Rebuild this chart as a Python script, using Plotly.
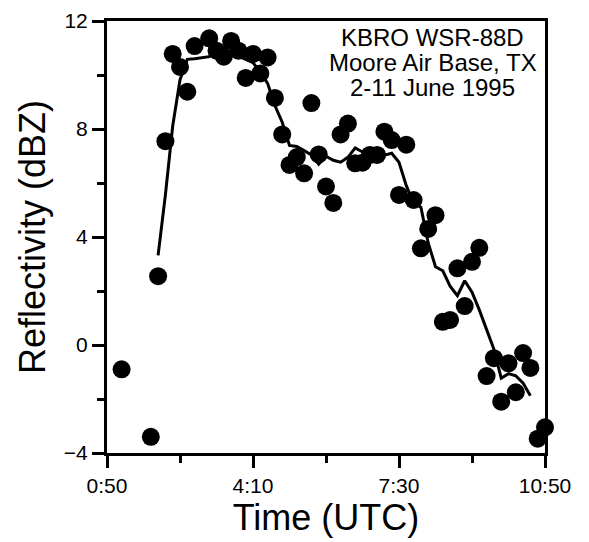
import plotly.graph_objects as go

# time in minutes after 00:00 UTC
minutes = [70, 110, 120, 130, 140, 150, 160, 170, 190, 200,
           210, 220, 230, 240, 250, 260, 270, 280, 290, 300,
           310, 320, 330, 340, 350, 360, 370, 380, 390, 400,
           410, 420, 430, 440, 450, 460, 470, 480, 490, 500,
           510, 520, 530, 540, 550, 560, 570, 580, 590, 600,
           610, 620, 630, 640, 650]
dbz = [-0.9, -3.4, 2.55, 7.55, 10.78, 10.3, 9.38, 11.07, 11.36, 10.9,
       10.68, 11.26, 10.9, 9.89, 10.78, 10.06, 10.65, 9.15, 7.8, 6.67,
       6.96, 6.36, 8.96, 7.06, 5.87, 5.26, 7.8, 8.2, 6.73, 6.75,
       7.04, 7.04, 7.9, 7.59, 5.56, 7.42, 5.37, 3.58, 4.3, 4.81,
       0.86, 0.93, 2.84, 1.44, 3.08, 3.6, -1.15, -0.49, -2.1, -0.68,
       -1.75, -0.3, -0.85, -3.47, -3.05]

# smoothed curve as drawn
smooth_minutes = minutes[2:-2]
smooth_dbz = [3.32, 5.56, 8.11, 9.82, 10.58, 10.60, 10.68, 11.05, 11.02, 10.73,
              10.70, 10.58, 10.46, 10.11, 9.69, 8.87, 8.25, 7.39, 7.35, 7.20,
              7.04, 6.70, 6.99, 6.84, 6.77, 6.95, 7.30, 7.15, 7.09, 7.26,
              7.03, 7.10, 6.77, 5.90, 5.25, 5.10, 3.78, 2.90, 2.75, 2.18,
              1.83, 2.38, 1.96, 1.30, 0.59, -0.16, -1.23, -1.06, -1.14, -1.41,
              -1.88]

x_ticks = [50, 250, 450, 650]
x_labels = ["0:50", "4:10", "7:30", "10:50"]
y_ticks = [-4, 0, 4, 8, 12]
note_lines = ["KBRO WSR-88D", "Moore Air Base, TX", "2-11 June 1995"]

FONT = "Liberation Sans, Arial, sans-serif"

fig = go.Figure()
fig.add_trace(go.Scatter(x=smooth_minutes, y=smooth_dbz, mode="lines",
                         line=dict(color="black", width=3), showlegend=False))
fig.add_trace(go.Scatter(x=minutes, y=dbz, mode="markers",
                         marker=dict(color="black", size=18), showlegend=False,
                         cliponaxis=False))

for i, txt in enumerate(note_lines):
    fig.add_annotation(x=0.744, y=[0.961, 0.903, 0.847][i], xref="paper", yref="paper",
                       text=txt, showarrow=False, xanchor="center", yanchor="middle",
                       font=dict(size=24, color="black", family=FONT))

axis_common = dict(showline=True, linecolor="black", linewidth=3, mirror=True,
                   showgrid=False, zeroline=False, ticks="outside", ticklen=12,
                   tickwidth=3, tickcolor="black",
                   tickfont=dict(size=21, color="black", family=FONT))

fig.update_xaxes(range=[50, 650], tickvals=x_ticks, ticktext=x_labels,
                 minor=dict(tickvals=[150, 350, 550], ticklen=7, tickwidth=3,
                            tickcolor="black", ticks="outside"),
                 title=dict(text="Time (UTC)", font=dict(size=36, color="black", family=FONT),
                            standoff=6),
                 **axis_common)
fig.update_yaxes(range=[-4, 12], tickvals=y_ticks,
                 minor=dict(tickvals=[-2, 2, 6, 10], ticklen=7, tickwidth=3,
                            tickcolor="black", ticks="outside"),
                 title=dict(text="Reflectivity (dBZ)", font=dict(size=36, color="black", family=FONT),
                            standoff=8),
                 **axis_common)

fig.update_layout(width=589, height=542, plot_bgcolor="white", paper_bgcolor="white",
                  margin=dict(l=107, r=44, t=21, b=89, autoexpand=False))

# page body has a default margin; drop it so the figure sits at the corner
fig.write_html("out.html", config={"displayModeBar": False},
               post_script="document.body.style.margin='0';")
